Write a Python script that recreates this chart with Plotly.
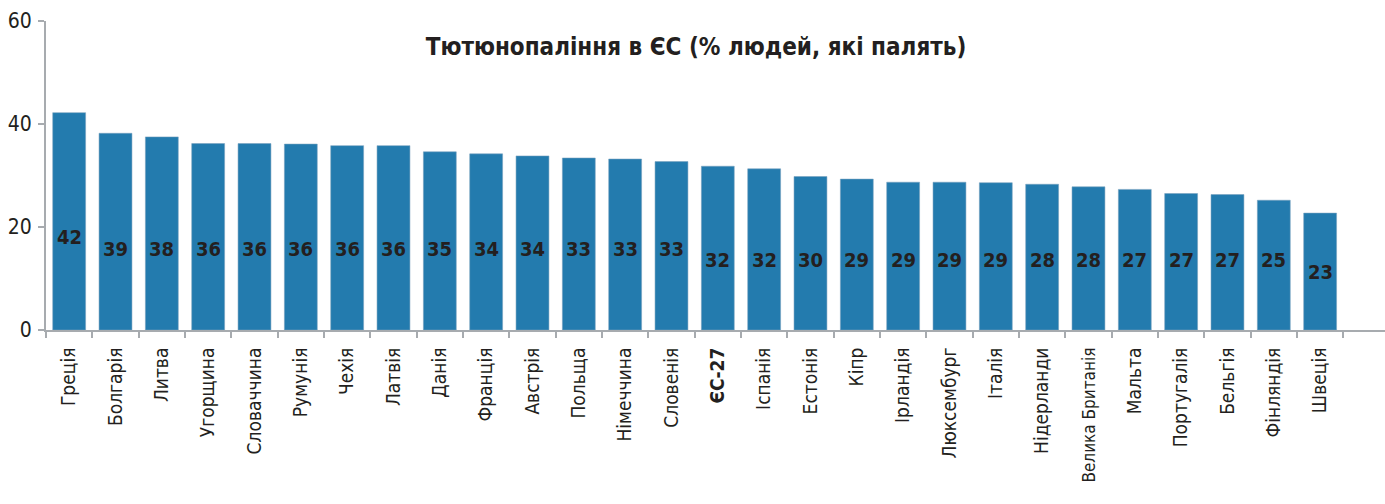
import plotly.graph_objects as go

countries = ["Греція", "Болгарія", "Литва", "Угорщина", "Словаччина", "Румунія", "Чехія",
             "Латвія", "Данія", "Франція", "Австрія", "Польща", "Німеччина", "Словенія",
             "ЄС-27", "Іспанія", "Естонія", "Кіпр", "Ірландія", "Люксембург", "Італія",
             "Нідерланди", "Велика Британія", "Мальта", "Португалія", "Бельгія",
             "Фінляндія", "Швеція"]
# bar heights as drawn
heights = [42.2, 38.2, 37.5, 36.2, 36.2, 36.1, 35.8, 35.8, 34.6, 34.2, 33.8, 33.4, 33.2,
           32.7, 31.8, 31.3, 29.8, 29.3, 28.7, 28.7, 28.6, 28.3, 27.8, 27.3, 26.5, 26.3,
           25.2, 22.7]
# printed values
labels = [42, 39, 38, 36, 36, 36, 36, 36, 35, 34, 34, 33, 33, 33, 32, 32, 30, 29, 29, 29,
          29, 28, 28, 27, 27, 27, 25, 23]
yticks = [0, 20, 40, 60]
title = "Тютюнопаління в ЄС (% людей, які палять)"

# label vertical placement (style)
label_y = [18.1] + [15.7] * 13 + [13.6] * 13 + [11.3]

NARROW = "DejaVu Sans Condensed, Liberation Sans Narrow, sans-serif"
BAR = "#237bae"
AXIS = "#a7abaf"

W, H = 1385, 504


def fmt_tick(c):
    if c == "ЄС-27":
        return "<b>%s</b>" % c
    if len(c) > 12:
        return '<span style="font-size:17px">%s</span>' % c
    return c


ticktext = [fmt_tick(c) for c in countries]

fig = go.Figure()
fig.add_trace(go.Bar(
    x=countries, y=heights, width=0.71,
    marker=dict(color=BAR, line=dict(color="rgba(120,160,190,0.55)", width=1)),
    hoverinfo="skip",
))

for c, v, ly in zip(countries, labels, label_y):
    fig.add_annotation(x=c, y=ly, text="<b>%d</b>" % v, showarrow=False,
                       font=dict(family=NARROW, size=20, color="#231f20"),
                       xanchor="center", yanchor="middle")

fig.update_layout(
    width=W, height=H,
    margin=dict(l=46, r=0, t=21, b=174),
    paper_bgcolor="white", plot_bgcolor="white",
    showlegend=False,
    bargap=0.29,
    title=dict(text="<b>%s</b>" % title, x=696 / W, xanchor="center", xref="container",
               y=1 - 47 / H, yanchor="middle", yref="container",
               font=dict(family=NARROW, size=24, color="#231f20")),
)
fig.update_xaxes(
    type="category", range=[-0.5, 28.4], automargin=False,
    tickmode="array", tickvals=countries, ticktext=ticktext,
    tickson="boundaries", ticks="outside", ticklen=6, tickcolor=AXIS, tickwidth=1.5,
    tickangle=-90, tickfont=dict(family=NARROW, size=19, color="#231f20"),
    ticklabelstandoff=8,
    showline=True, linecolor=AXIS, linewidth=2, showgrid=False, zeroline=False,
)
fig.update_yaxes(
    range=[0, 60], tickmode="array", tickvals=yticks, automargin=False,
    ticks="outside", ticklen=6, tickcolor=AXIS, tickwidth=1.5,
    tickfont=dict(family=NARROW, size=21, color="#231f20"),
    ticklabelstandoff=2,
    showline=True, linecolor=AXIS, linewidth=2, showgrid=False, zeroline=False,
)

fig.write_html("out.html",
               config={"displayModeBar": False},
               post_script="document.body.style.margin='0px';"
                           "document.body.style.overflow='hidden';")
